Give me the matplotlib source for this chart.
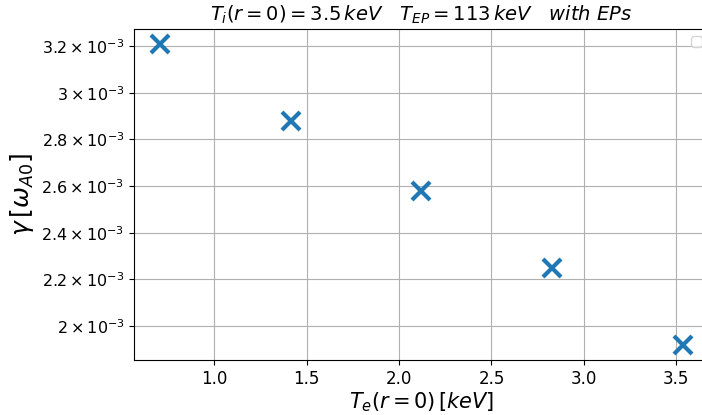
import numpy as np
import matplotlib
matplotlib.use("Agg")
import matplotlib.pyplot as plt
from matplotlib.ticker import FuncFormatter

# central electron temperature scan [keV] and growth rate [omega_A0]
Te0 = [0.707, 1.414, 2.121, 2.828, 3.536]
gamma = [3.2085e-3, 2.878e-3, 2.577e-3, 2.251e-3, 1.919e-3]
yticks = [2.0e-3, 2.2e-3, 2.4e-3, 2.6e-3, 2.8e-3, 3.0e-3, 3.2e-3]


def sci(v, pos):
    m = v / 1e-3
    s = ("%.1f" % m).rstrip("0").rstrip(".")
    return r"$\mathdefault{%s\times10^{-3}}$" % s


fig = plt.figure(figsize=(7.02, 4.15), dpi=100)
ax = fig.add_axes([0.191, 0.1325, 0.819, 0.7975])

ax.plot(Te0, gamma, "x", color="#1f77b4", markersize=13, markeredgewidth=3)
ax.set_yticks(yticks)
ax.yaxis.set_major_formatter(FuncFormatter(sci))
ax.grid(True, color="#b0b0b0", linewidth=0.8)
ax.tick_params(axis="x", labelsize=12)
ax.tick_params(axis="y", labelsize=11.5)

ax.set_xlabel(r"$T_e(r=0)\,[keV]$", fontsize=15, labelpad=2)
ax.set_ylabel(r"$\gamma\,[\omega_{A0}]$", fontsize=18, labelpad=4)
ax.set_title(r"$T_i(r=0) = 3.5\,keV \quad T_{EP} = 113\,keV \quad with\ EPs$", fontsize=14)
ax.legend(handles=[], loc="upper right")

fig.savefig("out.png", dpi=100)
